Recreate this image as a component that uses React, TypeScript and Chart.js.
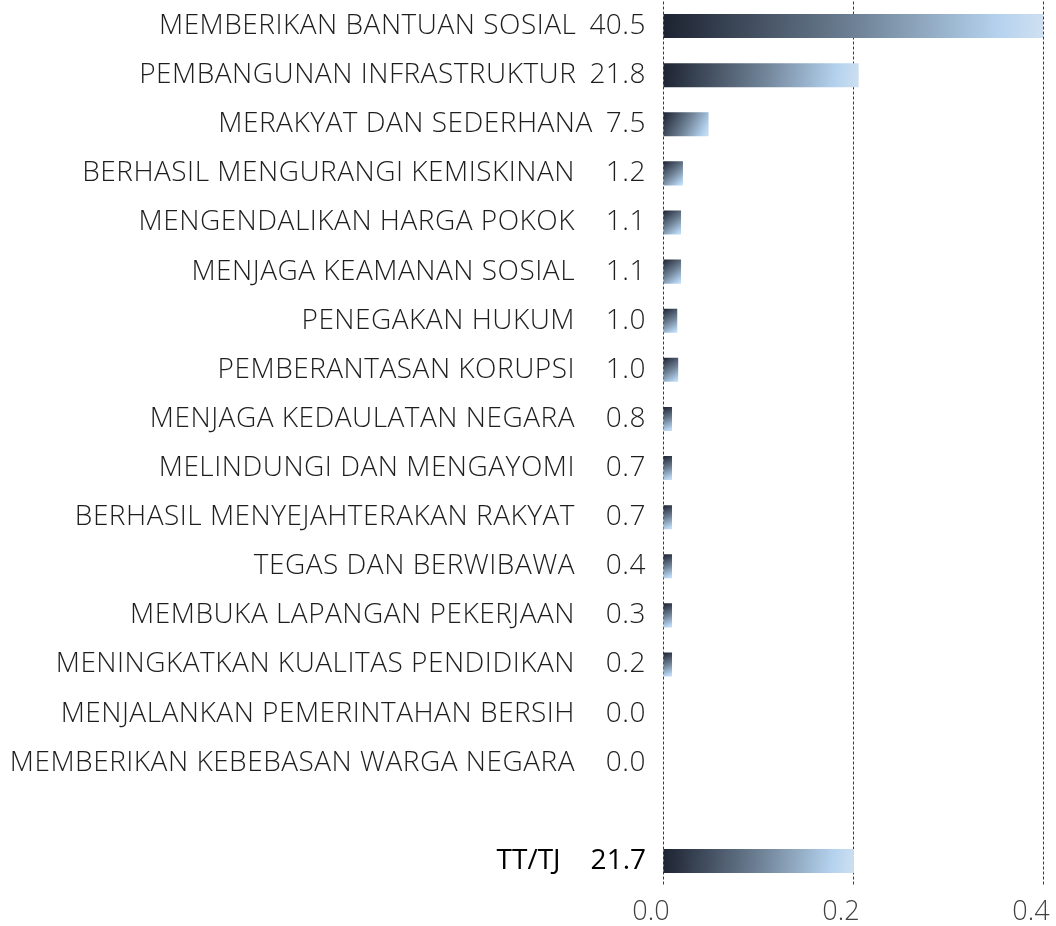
import React, { useEffect, useRef } from "react";
import { Chart, registerables } from "chart.js";

Chart.register(...registerables);

const categories = [
  "MEMBERIKAN BANTUAN SOSIAL",
  "PEMBANGUNAN INFRASTRUKTUR",
  "MERAKYAT DAN SEDERHANA",
  "BERHASIL MENGURANGI KEMISKINAN",
  "MENGENDALIKAN HARGA POKOK",
  "MENJAGA KEAMANAN SOSIAL",
  "PENEGAKAN HUKUM",
  "PEMBERANTASAN KORUPSI",
  "MENJAGA KEDAULATAN NEGARA",
  "MELINDUNGI DAN MENGAYOMI",
  "BERHASIL MENYEJAHTERAKAN RAKYAT",
  "TEGAS DAN BERWIBAWA",
  "MEMBUKA LAPANGAN PEKERJAAN",
  "MENINGKATKAN KUALITAS PENDIDIKAN",
  "MENJALANKAN PEMERINTAHAN BERSIH",
  "MEMBERIKAN KEBEBASAN WARGA NEGARA",
  "",
  "TT/TJ",
];

const valueLabels = [
  "40.5", "21.8", "7.5", "1.2", "1.1", "1.1", "1.0", "1.0", "0.8",
  "0.7", "0.7", "0.4", "0.3", "0.2", "0.0", "0.0", "", "21.7",
];

// bar lengths as drawn in the picture (axis units)
const barValues: (number | null)[] = [
  0.405, 0.206, 0.048, 0.021, 0.019, 0.019, 0.015, 0.016, 0.0095,
  0.0095, 0.0095, 0.0095, 0.0095, 0.0095, 0, 0, null, 0.201,
];

const xTicks = [0, 0.2, 0.4];

const FONT = "'Open Sans', 'Noto Sans', sans-serif";

const rowLabelPlugin = {
  id: "rowLabels",
  afterDraw(chart: any) {
    const { ctx, chartArea, scales } = chart;
    const y = scales.y;
    ctx.save();
    ctx.textBaseline = "middle";
    ctx.textAlign = "right";
    categories.forEach((name, i) => {
      if (!name && !valueLabels[i]) return;
      const yy = y.getPixelForValue(i);
      const isTotal = name === "TT/TJ";
      ctx.font = (isTotal ? "400" : "300") + " 28px " + FONT;
      (ctx as any).letterSpacing = isTotal ? "0px" : "0.5px";
      ctx.fillStyle = isTotal ? "#000000" : "#1e1e1e";
      const vx = chartArea.left - 17;
      ctx.fillText(valueLabels[i], vx, yy);
      const vw = ctx.measureText(valueLabels[i]).width;
      const inline = parseFloat(valueLabels[i]) >= 5;
      const nx = isTotal
        ? vx - vw - 30
        : inline
        ? vx - vw - 13
        : chartArea.left - 88;
      ctx.fillText(name, nx, yy);
    });
    (ctx as any).letterSpacing = "0px";
    ctx.restore();
  },
};

export default function App() {
  const ref = useRef<HTMLCanvasElement | null>(null);

  useEffect(() => {
    if (!ref.current) return;
    const chart = new Chart(ref.current, {
      type: "bar",
      data: {
        labels: categories,
        datasets: [
          {
            data: barValues,
            borderWidth: 0,
            barPercentage: 1,
            categoryPercentage: 0.49,
            backgroundColor: (c: any) => {
              const ch = c.chart;
              const { ctx, chartArea, scales } = ch;
              if (!chartArea || c.type !== "data" || !scales.x || !scales.y) return "#6f8296";
              const v = c.raw;
              if (v == null) return "rgba(0,0,0,0)";
              const x0 = scales.x.getPixelForValue(0);
              const x1 = scales.x.getPixelForValue(Math.min(v, scales.x.max));
              const yc = scales.y.getPixelForValue(c.dataIndex);
              const h = 12;
              const g = ctx.createLinearGradient(x0, yc - h, Math.max(x1, x0 + 1), yc + h);
              g.addColorStop(0, "#1c2230");
              g.addColorStop(0.5, "#6d8094");
              g.addColorStop(0.88, "#b4d2ee");
              g.addColorStop(1, "#cfe0f1");
              return g;
            },
          },
        ],
      },
      options: {
        indexAxis: "y",
        responsive: false,
        animation: false,
        layout: { padding: { left: 663, right: 13, top: 1.5, bottom: 0 } },
        plugins: {
          legend: { display: false },
          tooltip: { enabled: false },
        },
        scales: {
          y: {
            type: "category",
            display: false,
          },
          x: {
            type: "linear",
            position: "bottom",
            min: 0,
            max: 0.4,
            afterBuildTicks: (s: any) => {
              s.ticks = xTicks.map((v) => ({ value: v }));
            },
            afterFit: (s: any) => {
              s.height = 40.5;
              s.paddingLeft = 0;
              s.paddingRight = 0;
            },
            grid: {
              color: "#3a3a3a",
              lineWidth: 1,
              drawTicks: false,
            },
            border: { display: false, dash: [3, 2] },
            ticks: {
              padding: 11,
              labelOffset: -12,
              color: "#404040",
              font: { family: FONT, size: 27, weight: "300" },
              callback: (v: any) => Number(v).toFixed(1),
            },
          },
        },
      },
      plugins: [rowLabelPlugin],
    } as any);
    return () => chart.destroy();
  }, []);

  return (
    <div style={{ position: "absolute", left: 0, top: 0, width: 1056, height: 926, background: "#ffffff" }}>
      <canvas ref={ref} width={1056} height={926} style={{ display: "block" }} />
    </div>
  );
}
